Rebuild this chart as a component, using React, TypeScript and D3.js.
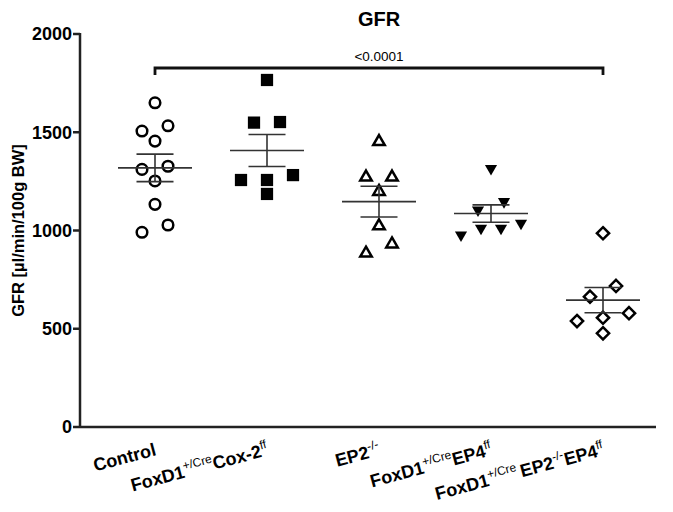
import React from "react";
import * as d3 from "d3";

// GFR values (µl/min/100g BW)
const groupKeys = ["control", "cox2", "ep2", "ep4", "ep2ep4"];
const controlGFR = [1650, 1533, 1506, 1455, 1327, 1311, 1252, 1133, 1028, 991];
const cox2GFR = [1766, 1552, 1549, 1282, 1257, 1257, 1186];
const ep2GFR = [1452, 1271, 1271, 1198, 1023, 931, 884];
const ep4GFR = [1316, 1147, 1104, 1037, 1011, 1011, 977];
const ep2ep4GFR = [986, 718, 663, 579, 556, 539, 477];
const yTicks = [0, 500, 1000, 1500, 2000];
const pValueLabel = "<0.0001";

// tick labels: [text, superscript?]
const groupLabels: [string, boolean][][] = [
  [["Control", false]],
  [["FoxD1", false], ["+/Cre", true], ["Cox-2", false], ["ff", true]],
  [["EP2", false], ["-/-", true]],
  [["FoxD1", false], ["+/Cre", true], ["EP4", false], ["ff", true]],
  [["FoxD1", false], ["+/Cre ", true], ["EP2", false], ["-/-", true], ["EP4", false], ["ff", true]],
];

const allData = [controlGFR, cox2GFR, ep2GFR, ep4GFR, ep2ep4GFR];

const W = 673, H = 512;
const left = 80, right = 656, top = 34, bottom = 427;
const font = "'Liberation Sans', Arial, sans-serif";

// simple column scatter layout: points close in y share a row and get spread sideways
function spread(vals: number[], y: (v: number) => number) {
  const sorted = vals.slice().sort((a, b) => b - a);
  const rows: number[][] = [];
  sorted.forEach((v) => {
    const row = rows[rows.length - 1];
    if (row && y(v) - y(row[0]) < 12) row.push(v);
    else rows.push([v]);
  });
  const out: { v: number; dx: number }[] = [];
  rows.forEach((row) => {
    const k = row.length;
    const sp = k >= 4 ? 20 : 26;
    row.slice().sort((a, b) => a - b).forEach((v, j) => out.push({ v, dx: (j - (k - 1) / 2) * sp }));
  });
  return out;
}

function Marker(props: { kind: number; x: number; y: number }) {
  const { kind, x, y } = props;
  const t = `translate(${x},${y})`;
  if (kind === 0) return <circle cx={x} cy={y} r={5.3} fill="white" stroke="black" strokeWidth={2.5} />;
  if (kind === 1) return <path transform={t} d={d3.symbol(d3.symbolSquare, 150)()!} fill="black" />;
  if (kind === 2) return <path transform={t} d={d3.symbol(d3.symbolTriangle2, 95)()!} fill="white" stroke="black" strokeWidth={2.5} strokeLinejoin="miter" />;
  if (kind === 3) return <path transform={t + " rotate(180)"} d={d3.symbol(d3.symbolTriangle, 64)()!} fill="black" />;
  return <path transform={t} d={d3.symbol(d3.symbolDiamond2, 95)()!} fill="white" stroke="black" strokeWidth={2.5} />;
}

export default function App() {
  const x = d3.scalePoint<string>().domain(groupKeys).range([left + 75, right - 53]);
  const y = d3.scaleLinear().domain([0, 2000]).range([bottom, top]);
  const bx0 = x(groupKeys[0])!, bx1 = x(groupKeys[4])!;

  return (
    <svg width={W} height={H} style={{ position: "absolute", left: 0, top: 0, background: "white" }} fontFamily={font}>
      <text x={(bx0 + bx1) / 2} y={26} textAnchor="middle" fontSize={20} fontWeight="bold">GFR</text>

      {/* axes */}
      <line x1={left} x2={right} y1={bottom} y2={bottom} stroke="#222" strokeWidth={2.5} />
      <line x1={left} x2={left} y1={top - 1} y2={bottom + 1} stroke="#222" strokeWidth={2.5} />
      {yTicks.map((t) => (
        <g key={t}>
          <line x1={left - 7} x2={left} y1={y(t)} y2={y(t)} stroke="#222" strokeWidth={2.5} />
          <text x={left - 8} y={y(t)} dy="0.36em" textAnchor="end" fontSize={18} fontWeight="bold">{t}</text>
        </g>
      ))}
      <text transform={`translate(24,${(top + bottom) / 2}) rotate(-90)`} textAnchor="middle" fontSize={16.5} fontWeight="bold">
        GFR [µl/min/100g BW]
      </text>

      {/* x labels */}
      {groupKeys.map((g, i) => (
        <text key={g} transform={`translate(${x(g)! + 2},455) rotate(-15)`} textAnchor="end" fontSize={18} fontWeight="bold">
          {groupLabels[i].map(([s, sup], j) => {
            const prevSup = j > 0 && groupLabels[i][j - 1][1];
            const dy = sup ? -7.5 : prevSup ? 7.5 : 0;
            return (
              <tspan key={j} dy={dy} fontSize={sup ? 12 : 18} fontWeight={sup ? "normal" : "bold"} style={{ whiteSpace: "pre" }}>
                {s}
              </tspan>
            );
          })}
        </text>
      ))}

      {/* significance bracket */}
      <path d={`M${bx0},75V68H${bx1}V75`} fill="none" stroke="#111" strokeWidth={2.8} />
      <text x={(bx0 + bx1) / 2} y={61} textAnchor="middle" fontSize={13.5}>{pValueLabel}</text>

      {/* points */}
      {allData.map((vals, i) => {
        const cx = x(groupKeys[i])!;
        return (
          <g key={i}>
            {spread(vals, y).map((p, j) => (
              <Marker key={j} kind={i} x={cx + p.dx} y={y(p.v)} />
            ))}
          </g>
        );
      })}

      {/* mean ± SEM */}
      {allData.map((vals, i) => {
        const cx = x(groupKeys[i])!;
        const m = d3.mean(vals)!;
        const sem = d3.deviation(vals)! / Math.sqrt(vals.length);
        return (
          <g key={"e" + i} stroke="#333" strokeWidth={1.6}>
            <line x1={cx - 37} x2={cx + 37} y1={y(m)} y2={y(m)} />
            <line x1={cx} x2={cx} y1={y(m + sem)} y2={y(m - sem)} />
            <line x1={cx - 18.5} x2={cx + 18.5} y1={y(m + sem)} y2={y(m + sem)} />
            <line x1={cx - 18.5} x2={cx + 18.5} y1={y(m - sem)} y2={y(m - sem)} />
          </g>
        );
      })}
    </svg>
  );
}
